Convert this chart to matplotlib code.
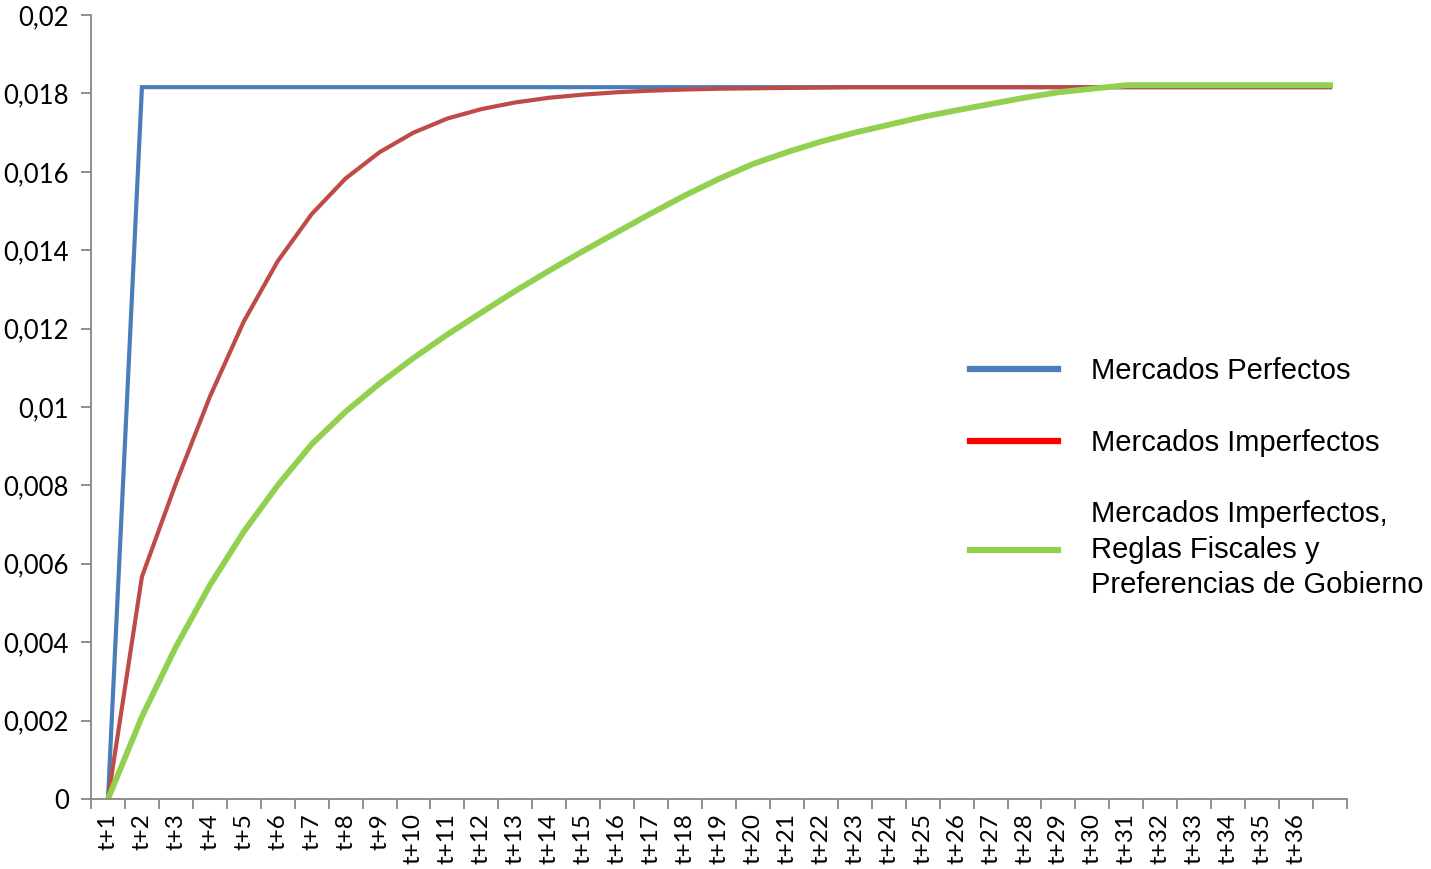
import matplotlib
matplotlib.use("Agg")
import matplotlib.pyplot as plt
from matplotlib.lines import Line2D

periods = ["t+%d" % i for i in range(1, 37)] + [""]

perfectos = [0.0] + [0.01816] * 36

imperfectos = [0.0, 0.00567, 0.00805, 0.01026, 0.01218, 0.01372, 0.01492,
               0.01583, 0.01650, 0.01700, 0.01736, 0.01760, 0.01777, 0.01789,
               0.01797, 0.01803, 0.01807, 0.01810, 0.01812, 0.01813, 0.01814,
               0.01815] + [0.01816] * 15

reglas = [0.0, 0.00210, 0.00388, 0.00545, 0.00682, 0.00800, 0.00905,
          0.00988, 0.01060, 0.01125, 0.01185, 0.01241, 0.01296, 0.01348,
          0.01398, 0.01446, 0.01494, 0.01540, 0.01582, 0.01620, 0.01650,
          0.01677, 0.01700, 0.01720, 0.01740, 0.01757, 0.01773, 0.01789,
          0.01803, 0.01812] + [0.01821] * 7

yticks = [0, 0.002, 0.004, 0.006, 0.008, 0.01, 0.012, 0.014, 0.016, 0.018, 0.02]
ylabels = ["0", "0,002", "0,004", "0,006", "0,008", "0,01", "0,012",
           "0,014", "0,016", "0,018", "0,02"]

legend_names = ["Mercados Perfectos", "Mercados Imperfectos",
                "Mercados Imperfectos,\nReglas Fiscales y\nPreferencias de Gobierno"]

c_blue = "#4A7EBB"
c_red = "#BE4B48"
c_green = "#92D050"
gray = "#868686"

fig = plt.figure(figsize=(14.31, 8.69), dpi=100)
ax = fig.add_axes([0.0636, 0.0806, 0.8777, 0.9021])

x = list(range(1, len(periods) + 1))
ax.plot(x, perfectos, color=c_blue, lw=3.0, solid_joinstyle="miter")
ax.plot(x, imperfectos, color=c_red, lw=3.0)
ax.plot(x, reglas, color=c_green, lw=4.2)

ax.set_xlim(0.5, len(periods) + 0.5)
ax.set_ylim(0, 0.02)

# category boundaries as ticks, labels centred in each slot
ax.set_xticks([i + 0.5 for i in range(0, len(periods) + 1)])
ax.set_xticklabels([])
ax.set_xticks(x, minor=True)
ax.set_xticklabels(periods, minor=True, rotation=90, fontsize=17.5,
                   family="Lato")
ax.tick_params(axis="x", which="major", length=7, width=1.3, color=gray,
               direction="out")
ax.tick_params(axis="x", which="minor", length=0, pad=10)

ax.set_yticks(yticks)
ax.set_yticklabels(ylabels, fontsize=18.5, family="Lato")
ax.tick_params(axis="y", length=7, width=1.3, color=gray, direction="out",
               pad=9)

for s in ["top", "right"]:
    ax.spines[s].set_visible(False)
for s in ["left", "bottom"]:
    ax.spines[s].set_color(gray)
    ax.spines[s].set_linewidth(1.3)

handles = [Line2D([], [], color=c_blue, lw=4.5),
           Line2D([], [], color="#FF0000", lw=4.5),
           Line2D([], [], color=c_green, lw=4.5)]
leg = fig.legend(handles, legend_names, loc="upper left",
                 bbox_to_anchor=(970 / 1431, 1 - 357 / 869),
                 frameon=False, prop={"family": "Liberation Sans", "size": 21},
                 handlelength=3.0, handletextpad=1.15, labelspacing=1.5,
                 borderpad=0, borderaxespad=0)
for t in leg.get_texts():
    t.set_linespacing(1.32)

fig.savefig("out.png", dpi=100)
